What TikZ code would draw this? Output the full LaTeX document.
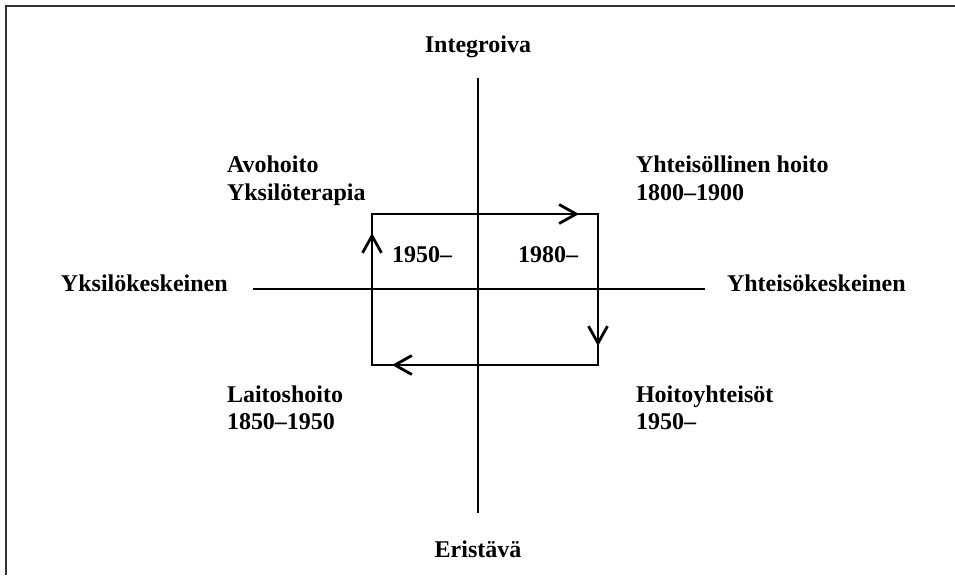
\documentclass[tikz,border=0pt]{standalone}
\usepackage{fontspec}
\setmainfont{Liberation Serif}
\usetikzlibrary{arrows.meta}

\begin{document}
\begin{tikzpicture}[x=0.5pt, y=-0.5pt, every path/.style={line width=1pt}]

        \tikzset{label/.style = {font=\fontsize{12}{14}\selectfont\bfseries, inner sep=0pt}}
        \tikzset{flow/.style = {-{Straight Barb[length=8.5pt, width=9.5pt, line width=1.4pt]}}}

        \useasboundingbox (0,0) rectangle (955,575);

        % frame
        \draw[line width=1.2pt, black!80] (6,575) -- (6,6) -- (955,6);

        % axes
        \coordinate (n) at (478,78);
        \coordinate (s) at (478,513);
        \coordinate (w) at (253,289);
        \coordinate (e) at (705,289);
        \draw (n) -- (s);
        \draw (w) -- (e);

        \node[label, anchor=base] (integ) at (478,52) {Integroiva};
        \node[label, anchor=base] (erist) at (478,557) {Eristävä};
        \node[label, anchor=base west] (yksil) at (60,291) {Yksilökeskeinen};
        \node[label, anchor=base west] (yhtei) at (726,291) {Yhteisökeskeinen};

        % cycle
        \coordinate (tl) at (372,214);
        \coordinate (tr) at (598,214);
        \coordinate (br) at (598,365);
        \coordinate (bl) at (372,365);
        \coordinate (ta) at (579,214);
        \coordinate (ra) at (598,346);
        \coordinate (ba) at (392,365);
        \coordinate (la) at (372,233);
        \draw (tl) -- (tr) -- (br) -- (bl) -- cycle;
        \draw[flow] (tl) -- (ta);
        \draw[flow] (tr) -- (ra);
        \draw[flow] (br) -- (ba);
        \draw[flow] (bl) -- (la);

        % quadrants
        \node[label, anchor=base west] (avo) at (226,172) {Avohoito};
        \node[label, anchor=base west] (yter) at (226,200) {Yksilöterapia};
        \node[label, anchor=base west] (yhoito) at (635,172) {Yhteisöllinen hoito};
        \node[label, anchor=base west] (y1800) at (635,200) {1800–1900};
        \node[label, anchor=base west] (laitos) at (226,402) {Laitoshoito};
        \node[label, anchor=base west] (l1850) at (226,429) {1850–1950};
        \node[label, anchor=base west] (hoitoy) at (635,402) {Hoitoyhteisöt};
        \node[label, anchor=base west] (h1950) at (635,429) {1950–};
        \node[label, anchor=base west] (in1950) at (391,262) {1950–};
        \node[label, anchor=base west] (in1980) at (517,262) {1980–};
\end{tikzpicture}
\end{document}
